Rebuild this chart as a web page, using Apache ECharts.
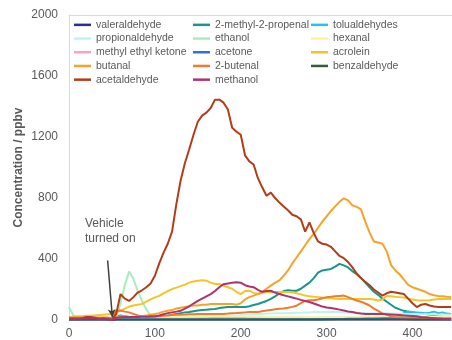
<!DOCTYPE html>
<html>
<head>
<meta charset="utf-8">
<script src="https://cdn.jsdelivr.net/npm/echarts@6/dist/echarts.min.js"></script>
<style>
  html, body { margin: 0; padding: 0; background: #ffffff; }
  #chart { width: 452px; height: 340px; }
</style>
</head>
<body>
<div id="chart"></div>
<script>
// Sampling times (x axis)
const times = [
  0, 5, 10, 15, 20, 25, 30, 35, 40, 45,
  50, 55, 60, 65, 70, 75, 80, 85, 90, 95,
  100, 105, 110, 115, 120, 125, 130, 135, 140, 145,
  150, 155, 160, 165, 170, 175, 180, 185, 190, 195,
  200, 205, 210, 215, 220, 225, 230, 235, 240, 245,
  250, 255, 260, 265, 270, 275, 280, 285, 290, 295,
  300, 305, 310, 315, 320, 325, 330, 335, 340, 345,
  350, 355, 360, 365, 370, 375, 380, 385, 390, 395,
  400, 405, 410, 415, 420, 425, 430, 435, 440, 445
];

// Concentrations in ppbv, one value per sampling time
const valeraldehyde = [
  6, 6, 6, 6, 6, 6, 6, 6, 6, 5,
  0, 5, 6, 6, 6, 6, 6, 6, 6, 6,
  6, 6, 6, 6, 6, 7, 7, 7, 8, 8,
  8, 9, 9, 10, 10, 11, 12, 12, 12, 12,
  12, 11, 11, 10, 10, 9, 9, 8, 8, 8,
  7, 7, 7, 7, 6, 6, 6, 6, 6, 6,
  6, 6, 6, 6, 6, 6, 6, 6, 6, 6,
  6, 6, 6, 6, 6, 6, 6, 6, 6, 6,
  6, 6, 6, 6, 6, 6, 6, 6, 6, 6
];
const methylPropenal = [
  5, 5, 5, 5, 5, 5, 5, 5, 5, 5,
  0, 25, 30, 25, 20, 18, 15, 12, 10, 10,
  15, 20, 25, 28, 35, 40, 45, 50, 52, 58,
  62, 65, 68, 70, 72, 78, 82, 85, 85, 85,
  85, 86, 90, 98, 105, 115, 125, 138, 155, 175,
  190, 195, 192, 192, 205, 225, 245, 275, 310, 325,
  330, 335, 350, 368, 358, 345, 320, 300, 275, 245,
  215, 185, 165, 140, 120, 100, 80, 70, 60, 55,
  50, 45, 42, 40, 35, 30, 25, 22, 20, 20
];
const tolualdehydes = [
  2, 2, 3, 2, 2, 3, 2, 2, 3, 2,
  0, 2, 3, 3, 2, 3, 3, 2, 3, 3,
  3, 3, 3, 3, 3, 3, 3, 3, 3, 3,
  3, 3, 3, 4, 4, 4, 4, 4, 4, 4,
  4, 4, 4, 4, 4, 4, 4, 4, 4, 4,
  4, 4, 4, 4, 4, 4, 4, 4, 4, 4,
  4, 4, 4, 4, 4, 4, 4, 4, 5, 5,
  5, 5, 5, 5, 5, 8, 15, 30, 45, 55,
  52, 50, 48, 45, 48, 55, 45, 50, 42, 40
];
const propionaldehyde = [
  10, 10, 10, 10, 10, 10, 10, 10, 10, 10,
  5, 10, 12, 12, 12, 12, 12, 12, 14, 14,
  15, 15, 16, 16, 18, 18, 20, 20, 22, 22,
  24, 24, 25, 26, 26, 28, 28, 28, 30, 30,
  32, 34, 36, 38, 40, 40, 42, 42, 44, 44,
  45, 46, 46, 48, 48, 50, 50, 52, 52, 52,
  52, 52, 52, 52, 50, 50, 48, 48, 46, 46,
  45, 45, 45, 44, 44, 42, 42, 42, 40, 40,
  40, 40, 38, 38, 36, 36, 35, 35, 35, 35
];
const ethanol = [
  85, 30, 20, 15, 12, 12, 10, 10, 8, 8,
  5, 15, 110, 230, 318, 270, 190, 125, 70, 30,
  8, 8, 8, 8, 8, 8, 8, 8, 10, 10,
  10, 10, 10, 10, 10, 12, 12, 12, 12, 12,
  12, 12, 14, 14, 14, 14, 15, 15, 15, 15,
  15, 15, 16, 16, 16, 16, 16, 18, 18, 18,
  18, 18, 18, 18, 18, 18, 18, 18, 18, 18,
  18, 18, 18, 18, 20, 20, 20, 20, 20, 20,
  20, 20, 20, 20, 20, 20, 20, 20, 20, 20
];
const hexanal = [
  18, 18, 18, 18, 18, 18, 18, 18, 18, 18,
  10, 18, 20, 20, 20, 20, 20, 22, 22, 22,
  22, 24, 24, 24, 25, 25, 25, 25, 25, 25,
  25, 25, 25, 25, 25, 25, 25, 25, 25, 25,
  25, 24, 24, 24, 23, 23, 22, 22, 22, 22,
  22, 21, 21, 21, 21, 20, 20, 20, 20, 20,
  20, 20, 20, 20, 20, 20, 20, 20, 20, 20,
  20, 20, 20, 20, 20, 20, 20, 20, 20, 20,
  20, 20, 20, 20, 20, 20, 20, 20, 20, 20
];
const methylEthylKetone = [
  2, 2, 2, 2, 2, 2, 2, 2, 2, 2,
  0, 2, 2, 2, 2, 2, 2, 2, 2, 2,
  2, 2, 2, 2, 2, 2, 2, 2, 2, 2,
  2, 2, 2, 2, 2, 2, 2, 2, 2, 2,
  2, 2, 2, 2, 2, 2, 2, 2, 2, 2,
  2, 2, 2, 2, 2, 2, 2, 2, 2, 2,
  2, 2, 2, 2, 2, 2, 2, 2, 2, 2,
  2, 2, 2, 2, 2, 2, 2, 2, 2, 2,
  2, 2, 2, 2, 2, 2, 2, 2, 2, 2
];
const acetone = [
  3, 3, 3, 3, 3, 3, 3, 3, 3, 3,
  0, 3, 3, 3, 3, 3, 3, 3, 3, 3,
  3, 3, 3, 3, 3, 3, 3, 3, 3, 3,
  3, 3, 3, 3, 3, 3, 3, 3, 3, 3,
  3, 3, 3, 3, 3, 3, 3, 3, 3, 3,
  3, 3, 3, 4, 4, 4, 4, 4, 4, 4,
  5, 5, 6, 6, 6, 8, 8, 8, 8, 10,
  10, 10, 10, 12, 12, 12, 10, 8, 6, 5,
  4, 4, 4, 4, 4, 4, 4, 4, 4, 4
];
const acrolein = [
  20, 22, 25, 25, 28, 28, 30, 32, 35, 38,
  40, 50, 60, 75, 88, 95, 100, 105, 120, 135,
  148, 158, 175, 190, 203, 212, 222, 232, 245, 252,
  258, 260, 258, 245, 236, 236, 225, 215, 205, 185,
  170, 190, 192, 178, 170, 178, 182, 184, 184, 184,
  184, 184, 182, 175, 168, 160, 155, 152, 150, 148,
  145, 143, 140, 138, 138, 138, 138, 138, 138, 138,
  138, 135, 128, 135, 158, 155, 152, 150, 148, 140,
  135, 130, 128, 128, 130, 135, 138, 138, 138, 138
];
const butanal = [
  15, 15, 15, 15, 15, 15, 15, 15, 15, 15,
  10, 20, 25, 25, 20, 20, 20, 25, 30, 35,
  40, 45, 55, 60, 65, 75, 80, 85, 90, 95,
  95, 100, 100, 105, 105, 105, 105, 105, 105, 100,
  110, 135, 150, 160, 170, 185, 205, 225, 245, 260,
  290, 325, 370, 410, 450, 490, 530, 565, 605, 645,
  680, 715, 745, 775, 798, 785, 752, 742, 725, 645,
  575, 515, 508, 500, 450, 360, 325, 300, 265, 230,
  215, 205, 195, 185, 170, 162, 158, 155, 152, 150
];
const butenal = [
  15, 15, 15, 15, 15, 15, 15, 15, 15, 15,
  10, 60, 62, 55, 50, 40, 30, 25, 22, 20,
  22, 25, 28, 30, 32, 34, 35, 36, 38, 38,
  40, 40, 40, 40, 40, 40, 40, 42, 45, 46,
  48, 50, 52, 52, 53, 58, 62, 66, 70, 73,
  76, 80, 86, 94, 110, 125, 130, 130, 135, 142,
  150, 152, 155, 158, 160, 150, 138, 128, 120, 108,
  95, 75, 60, 42, 35, 25, 20, 18, 16, 15,
  15, 14, 13, 12, 12, 12, 12, 12, 12, 12
];
const benzaldehyde = [
  4, 4, 4, 4, 4, 4, 4, 4, 4, 4,
  0, 4, 4, 4, 4, 4, 4, 4, 4, 4,
  4, 4, 4, 4, 4, 4, 4, 4, 4, 4,
  4, 4, 4, 4, 4, 4, 4, 4, 4, 4,
  4, 4, 4, 4, 4, 4, 4, 4, 4, 4,
  4, 4, 4, 4, 4, 4, 4, 4, 4, 4,
  4, 4, 4, 4, 4, 4, 4, 4, 4, 4,
  4, 4, 4, 4, 4, 4, 4, 4, 4, 4,
  4, 4, 4, 4, 4, 4, 4, 4, 4, 4
];
const acetaldehyde = [
  5, 5, 5, 10, 20, 20, 15, 5, 10, 5,
  0, 40, 170, 140, 125, 150, 180, 195, 215, 240,
  290, 370, 440, 500, 580, 760, 915, 1030, 1120, 1215,
  1300, 1340, 1360, 1390, 1445, 1445, 1425, 1380, 1260, 1235,
  1215, 1080, 1040, 1020, 930, 870, 815, 835, 800, 770,
  745, 720, 690, 680, 660, 580, 640, 570, 515, 500,
  495, 480, 450, 420, 405, 380, 345, 305, 275, 250,
  228, 200, 180, 160, 175, 185, 180, 175, 170, 140,
  110, 85, 100, 105, 95, 88, 85, 85, 85, 85
];
const methanol = [
  10, 10, 10, 10, 10, 10, 10, 10, 10, 8,
  0, 15, 18, 20, 20, 20, 20, 22, 22, 24,
  25, 30, 38, 45, 50, 55, 60, 75, 90, 108,
  125, 140, 155, 170, 190, 215, 235, 240, 245, 248,
  245, 228, 220, 215, 198, 185, 190, 192, 180, 170,
  162, 155, 148, 140, 132, 125, 118, 108, 98, 88,
  82, 78, 74, 68, 62, 56, 52, 46, 42, 40,
  40, 40, 40, 40, 38, 36, 34, 32, 30, 28,
  26, 24, 20, 18, 14, 12, 10, 8, 7, 7
];

// Axis ticks
const yTicks = [0, 400, 800, 1200, 1600, 2000];
const xTicks = [0, 100, 200, 300, 400];
const xMax = 446;

// Annotation: engine start
const startArrow = [[45, 390], [50.5, 18]];
const startText = 'Vehicle\nturned on';

const seriesDefs = [
  { name: 'valeraldehyde', values: valeraldehyde, color: '#2b2f8f' },
  { name: '2-methyl-2-propenal', values: methylPropenal, color: '#17958f' },
  { name: 'tolualdehydes', values: tolualdehydes, color: '#22c4ea' },
  { name: 'propionaldehyde', values: propionaldehyde, color: '#bff3f3' },
  { name: 'ethanol', values: ethanol, color: '#a9ecc0' },
  { name: 'hexanal', values: hexanal, color: '#fbf2a8' },
  { name: 'methyl ethyl ketone', values: methylEthylKetone, color: '#f5a3cd' },
  { name: 'acetone', values: acetone, color: '#2f6fe0' },
  { name: 'acrolein', values: acrolein, color: '#f5c527' },
  { name: 'butanal', values: butanal, color: '#f6a32c' },
  { name: '2-butenal', values: butenal, color: '#ef7a30' },
  { name: 'benzaldehyde', values: benzaldehyde, color: '#2e5e3c' },
  { name: 'acetaldehyde', values: acetaldehyde, color: '#b23d18' },
  { name: 'methanol', values: methanol, color: '#b0336f' }
];

const legendColumns = [
  ['valeraldehyde', 'propionaldehyde', 'methyl ethyl ketone', 'butanal', 'acetaldehyde'],
  ['2-methyl-2-propenal', 'ethanol', 'acetone', '2-butenal', 'methanol'],
  ['tolualdehydes', 'hexanal', 'acrolein', 'benzaldehyde']
];
const legendLeft = [74, 193, 311];

const FONT = "'Liberation Sans', Arial, Helvetica, sans-serif";
const TEXT = '#595959';
const AXIS = '#d9d9d9';

const series = seriesDefs.map((d, i) => {
  const s = {
    name: d.name,
    type: 'line',
    xAxisIndex: 0,
    data: times.map((t, k) => [t, d.values[k]]),
    showSymbol: false,
    symbol: 'none',
    color: d.color,
    lineStyle: { width: 2, color: d.color },
    animation: false
  };
  if (i === 0) {
    s.markLine = {
      silent: true,
      symbol: ['none', 'arrow'],
      symbolSize: [6, 8],
      label: { show: false },
      lineStyle: { color: '#404040', width: 1.5, type: 'solid' },
      data: [[{ coord: startArrow[0] }, { coord: startArrow[1] }]],
      animation: false
    };
  }
  return s;
});

const chart = echarts.init(document.getElementById('chart'), null, { renderer: 'canvas' });
chart.setOption({
  animation: false,
  backgroundColor: '#ffffff',
  textStyle: { fontFamily: FONT },
  grid: { left: 69, right: 0, top: 15, bottom: 19 },
  legend: legendColumns.map((col, i) => ({
    data: col,
    orient: 'vertical',
    left: legendLeft[i],
    top: 18,
    itemGap: 0,
    itemWidth: 17,
    itemHeight: 2.5,
    icon: 'rect',
    selectedMode: false,
    padding: 0,
    textStyle: { color: TEXT, fontSize: 10.5, lineHeight: 13.7, fontFamily: FONT }
  })),
  xAxis: [{
    type: 'value',
    min: xTicks[0],
    max: xMax,
    interval: 100,
    axisLine: { show: true, lineStyle: { color: AXIS } },
    axisTick: { show: false },
    splitLine: { show: false },
    axisLabel: {
      color: TEXT, fontSize: 12, margin: 8, fontFamily: FONT,
      showMaxLabel: false,
      formatter: v => (xTicks.indexOf(v) >= 0 ? String(v) : '')
    }
  }, {
    // plain frame line along the top of the plot area
    type: 'value',
    position: 'top',
    min: xTicks[0],
    max: xMax,
    axisLine: { show: true, lineStyle: { color: AXIS } },
    axisTick: { show: false },
    axisLabel: { show: false },
    splitLine: { show: false }
  }],
  yAxis: {
    type: 'value',
    min: yTicks[0],
    max: yTicks[yTicks.length - 1],
    interval: 400,
    name: 'Concentration / ppbv',
    nameLocation: 'middle',
    nameGap: 44,
    nameMoveOverlap: false,
    nameTextStyle: { color: TEXT, fontSize: 12, fontWeight: 'bold', fontFamily: FONT },
    axisLine: { show: true, lineStyle: { color: AXIS } },
    axisTick: { show: false },
    splitLine: { show: false },
    axisLabel: {
      color: TEXT, fontSize: 12, margin: 11, fontFamily: FONT,
      formatter: v => (yTicks.indexOf(v) >= 0 ? String(v) : '')
    }
  },
  graphic: [{
    type: 'text',
    left: 85,
    top: 216,
    silent: true,
    style: { text: startText, fill: TEXT, font: '12px ' + FONT, lineHeight: 15 }
  }],
  series: series
});
</script>
</body>
</html>
